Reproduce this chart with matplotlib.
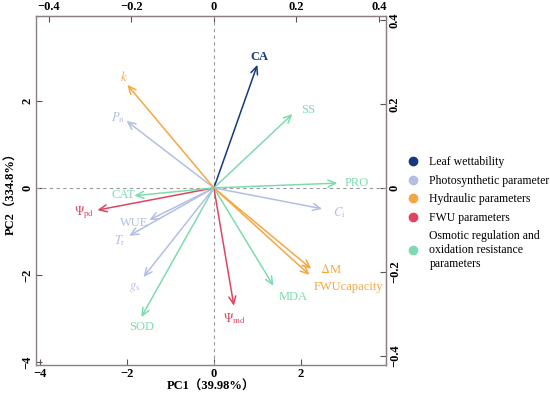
import matplotlib
matplotlib.use('Agg')
import matplotlib.pyplot as plt
from matplotlib.lines import Line2D

plt.rcParams['font.family'] = ['Liberation Serif', 'Noto Sans CJK SC']
plt.rcParams['mathtext.fontset'] = 'stix'

# variable loadings (PC1, PC2) and their group
variables = ['CA', 'SS', 'PRO', 'Ci', 'dM', 'FWUcapacity', 'MDA', 'Psi_md',
             'SOD', 'gs', 'Tr', 'WUE', 'Psi_pd', 'CAT', 'Pn', 'k']
labels = ['CA', 'SS', 'PRO', r'$C_{\rm i}$', r'$\Delta$M', 'FWUcapacity', 'MDA',
          r'$\Psi_{\rm md}$', 'SOD', r'$g_{\rm s}$', r'$T_{\rm r}$', 'WUE',
          r'$\Psi_{\rm pd}$', 'CAT', r'$P_{\rm n}$', r'$k$']
pc1 = [1.00, 1.81, 2.84, 2.49, 2.24, 2.20, 1.37, 0.46,
       -1.67, -1.62, -1.95, -1.49, -2.68, -1.83, -2.01, -1.99]
pc2 = [2.83, 1.70, 0.11, -0.48, -1.86, -2.00, -2.25, -2.71,
       -2.97, -2.05, -1.10, -0.74, -0.51, -0.18, 1.54, 2.37]
groups = [0, 4, 4, 1, 2, 2, 4, 3, 4, 1, 1, 1, 3, 4, 1, 2]

group_names = ['Leaf wettability', 'Photosynthetic parameter', 'Hydraulic parameters',
               'FWU parameters', 'Osmotic regulation and\noxidation resistance\nparameters']
group_colors = ['#15387f', '#b3bfe3', '#f7a73f', '#e04560', '#7edbb0']

# label offsets in data units (dx, dy) relative to arrow tip
label_dx = [0.05, 0.35, 0.45, 0.4, 0.45, 0.9, 0.45, 0.0,
            0.0, -0.2, -0.2, -0.35, -0.3, -0.25, -0.2, -0.07]
label_dy = [0.17, 0.08, 0.0, -0.08, -0.02, -0.27, -0.25, -0.3,
            -0.22, -0.25, -0.12, -0.07, -0.07, 0.02, 0.07, 0.18]

fig = plt.figure(figsize=(5.5, 3.97), dpi=100)
ax = fig.add_axes([0.0655, 0.0806, 0.6365, 0.879])
ax.set_xlim(-4.09, 3.96)
ax.set_ylim(-4.07, 3.95)

ax.axhline(0, color='#999999', ls='--', lw=0.8, dashes=(3, 3))
ax.axvline(0, color='#999999', ls='--', lw=0.8, dashes=(3, 3))

for i in range(len(variables)):
    c = group_colors[groups[i]]
    ax.annotate('', xy=(pc1[i], pc2[i]), xytext=(0, 0),
                arrowprops=dict(arrowstyle='->,head_length=0.55,head_width=0.25',
                                color=c, lw=1.1, shrinkA=0, shrinkB=0))
    w = 'bold' if groups[i] == 0 else 'normal'
    ax.text(pc1[i] + label_dx[i], pc2[i] + label_dy[i], labels[i], color=c,
            fontsize=9, ha='center', va='center', fontweight=w)

spine_col = '#8c7f7f'
for s in ax.spines.values():
    s.set_color(spine_col)
    s.set_linewidth(1.0)

ax.set_xticks([-4, -2, 0, 2])
ax.set_yticks([-4, -2, 0, 2])
ax.tick_params(direction='in', length=4, color='#555555', labelsize=9, pad=2)
ax.set_xticklabels(['\u22124', '\u22122', '0', '2'], fontweight='bold')
ax.set_yticklabels(['\u22124', '\u22122', '0', '2'], fontweight='bold',
                   rotation=90, va='center')

sx = 0.1055
sy = 0.1036
top = ax.secondary_xaxis('top', functions=(lambda x: x * sx, lambda x: x / sx))
top.set_xticks([-0.4, -0.2, 0, 0.2, 0.4])
top.set_xticklabels(['\u22120.4', '\u22120.2', '0', '0.2', '0.4'], fontweight='bold')
top.tick_params(direction='in', length=4, color='#555555', labelsize=9, pad=2)
right = ax.secondary_yaxis('right', functions=(lambda y: y * sy, lambda y: y / sy))
right.set_yticks([-0.4, -0.2, 0, 0.2, 0.4])
right.set_yticklabels(['\u22120.4', '\u22120.2', '0', '0.2', '0.4'], fontweight='bold',
                      rotation=90, va='center')
right.tick_params(direction='in', length=4, color='#555555', labelsize=9, pad=2)
top.spines['top'].set_color(spine_col)
right.spines['right'].set_color(spine_col)

ax.set_xlabel('PC1（39.98%）', fontsize=9, fontweight='bold', labelpad=1)
ax.set_ylabel('PC2（334.8%）', fontsize=9, fontweight='bold', labelpad=3)

handles = [Line2D([], [], marker='o', ls='', color=c, markersize=6) for c in group_colors]
fig.legend(handles, group_names, loc='upper left', bbox_to_anchor=(0.725, 0.627),
           frameon=False, fontsize=8.5, labelspacing=0.55, handletextpad=0.9,
           handlelength=1.0, borderpad=0.2)

plt.savefig('out.png', dpi=100)
plt.close()
